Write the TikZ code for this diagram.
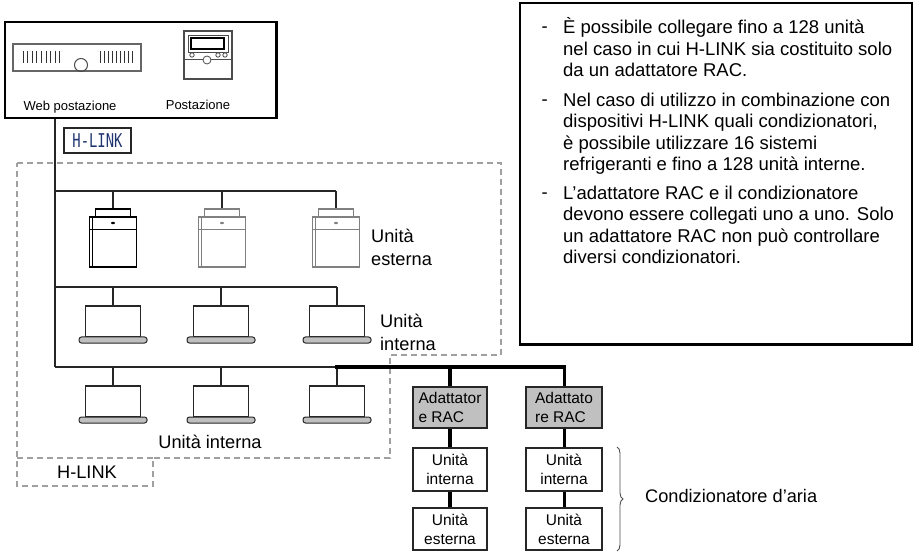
\documentclass[tikz,border=0pt]{standalone}
\usepackage{graphicx}
\usepackage{fontspec}
\setmainfont{Liberation Sans}
\newfontfamily\hlinkmono{DejaVu Sans Mono}
\usetikzlibrary{decorations.pathreplacing}
\definecolor{hlinkblue}{HTML}{1F3570}
\definecolor{adapterfill}{HTML}{C0C0C0}
\definecolor{dashgray}{HTML}{A0A0A0}

\begin{document}
\begin{tikzpicture}[x=1pt,y=-1pt,
  wire/.style={draw=black!85, line width=1.3pt},
  heavywire/.style={draw=black, line width=4.5pt},
  midwire/.style={draw=black, line width=3pt},
  zone/.style={draw=dashgray, line width=1.5pt, dash pattern=on 6pt off 4pt},
  lbl/.style={font=\fontsize{18.2}{23}\selectfont, inner sep=0pt, align=left},
  smalllbl/.style={font=\fontsize{13}{15}\selectfont, inner sep=0pt},
  note/.style={font=\fontsize{18.5}{21.6}\selectfont, inner sep=0pt, align=left, anchor=base west},
  unitbox/.style={draw=black!85, line width=1.2pt, fill=white, align=center,
    font=\fontsize{15.5}{19}\selectfont, inner sep=0pt},
  adapterbox/.style={unitbox, fill=adapterfill, align=left},
]
\useasboundingbox (0,0) rectangle (913,553);

% ---- H-LINK zone (dashed outline with tab) ----
\draw[zone] (17,163) -- (501,163) -- (501,355) -- (390,355) -- (390,458)
  -- (153,458) -- (153,486) -- (17,486) -- cycle;
\draw[zone] (17,458) -- (153,458);
\node[lbl] (hlinkzone) at (87,472) {H-LINK};

% ---- central management devices ----
\node[draw=black, line width=1.2pt, minimum width=271pt, minimum height=96pt, inner sep=0pt] (console) at (140.5,70) {};
\draw[line width=2pt] (console.north east) -- (console.south east);

% web station
\node[draw=black!60, line width=1.2pt, minimum width=128pt, minimum height=27pt, inner sep=0pt] (web) at (77,57.5) {};
\foreach \i in {0,...,8} {
  \draw[black!80, line width=0.9pt] (23+\i*4.6,51) -- ++(0,12.5);
  \draw[black!80, line width=0.9pt] (100+\i*4.1,51) -- ++(0,12.5);
}
\draw[black!70, line width=1pt] (81,65) circle (6.5);
\node[smalllbl] (weblbl) at (70,107) {Web postazione};

% wall controller
\node[draw=black!70, line width=1.2pt, minimum width=48pt, minimum height=48pt, inner sep=0pt] (ctrl) at (208,55) {};
\draw[black!70, line width=0.8pt] (188,35) rectangle (228,52);
\draw[black, line width=1.4pt] (191,38) rectangle (224,49);
\draw[black!70, line width=0.8pt] (184,59) -- (232,59);
\draw[black!70, line width=0.8pt, fill=white] (192,55) circle (2.2) (218,55) circle (2.2) (225,55) circle (2.2);
\draw[black!70, line width=0.8pt, fill=white] (207,60) circle (4);
\node[smalllbl] (ctrllbl) at (198,105) {Postazione};

% H-LINK tag
\node[draw=black!85, line width=1.2pt, minimum width=67pt, minimum height=25pt, inner sep=0pt,
  text=hlinkblue, font=\hlinkmono\fontsize{19}{19}\selectfont] (hlinktag) at (97.5,140.5) {\scalebox{0.73}[1]{H-LINK}};

% ---- bus junctions ----
\coordinate (jo) at (55,191);
\coordinate (ji) at (55,287);
\coordinate (jb) at (55,367);
\draw[wire] (console.south -| jb) -- (jb);

% ---- outdoor units ----
\foreach \x/\c [count=\k] in {113/black, 222/black!50, 336/black!50} {
  \node[draw=\c, line width=1.2pt, minimum width=47pt, minimum height=50pt, inner sep=0pt, fill=white] (odu\k) at (\x,242) {};
  \node[draw=\c, line width=1.2pt, minimum width=35pt, minimum height=8pt, inner sep=0pt] (cap\k) at (\x,213) {};
  \draw[\c, line width=0.8pt] (\x-23.5,229) -- (\x+23.5,229);
  \draw[\c, line width=0.8pt] (\x-20.8,217) -- (\x-20.8,267);
  \fill[\c] (\x,223) ellipse (2pt and 1.2pt);
}
\draw[wire] (jo) -- (jo -| cap3.north);
\foreach \k in {1,2,3} { \draw[wire] (jo -| cap\k.north) -- (cap\k.north); }
\node[lbl, anchor=base west] (odulbl) at (371,266) {Unità\\esterna};

% ---- indoor units (two rows) ----
\foreach \x [count=\k] in {113,221,337} {
  \node[draw=black!85, line width=1.2pt, minimum width=55pt, minimum height=31pt, inner sep=0pt] (idu\k) at (\x,321.5) {};
  \draw[black!85, line width=1pt, fill=black!25, rounded corners=2.5pt] (\x-34,337) rectangle (\x+34,343);
  \node[draw=black!85, line width=1.2pt, minimum width=55pt, minimum height=31pt, inner sep=0pt] (idw\k) at (\x,401.5) {};
  \draw[black!85, line width=1pt, fill=black!25, rounded corners=2.5pt] (\x-34,417) rectangle (\x+34,423);
}
\draw[wire] (ji) -- (ji -| idu3.north);
\draw[wire] (jb) -- (jb -| idw3.north);
\foreach \k in {1,2,3} {
  \draw[wire] (ji -| idu\k.north) -- (idu\k.north);
  \draw[wire] (jb -| idw\k.north) -- (idw\k.north);
}
\node[lbl, anchor=base west] (idulbl) at (380,350) {Unità\\interna};
\node[lbl] (idwlbl) at (210,442) {Unità interna};

% ---- RAC adapters with room air conditioners ----
\node[adapterbox, minimum width=74pt, minimum height=41pt] (ad1) at (450,407.5) {Adattator\\e RAC};
\node[adapterbox, minimum width=76pt, minimum height=41pt] (ad2) at (564,407.5) {Adattato\\re RAC};
\node[unitbox, minimum width=74pt, minimum height=43pt] (ri1) at (450,469.5) {Unità\\interna};
\node[unitbox, minimum width=74pt, minimum height=42pt] (re1) at (450,529) {Unità\\esterna};
\node[unitbox, minimum width=76pt, minimum height=43pt] (ri2) at (564,469.5) {Unità\\interna};
\node[unitbox, minimum width=76pt, minimum height=42pt] (re2) at (564,529) {Unità\\esterna};

\draw[heavywire, line cap=rect] (jb -| idw3.north) -- (jb -| ad2.north);
\draw[heavywire] (jb -| ad1.north) -- (ad1.north);
\draw[heavywire] (ad1.south) -- (ri1.north);
\draw[heavywire] (ri1.south) -- (re1.north);
\draw[midwire] (jb -| ad2.north) -- (ad2.north);
\draw[midwire] (ad2.south) -- (ri2.north);
\draw[midwire] (ri2.south) -- (re2.north);

% brace grouping the air conditioner
\coordinate (brtop) at (617,447);
\coordinate (brbot) at (617,551);
\draw[decorate, decoration={brace, amplitude=6pt}, black!70, line width=0.9pt] (brtop) -- (brbot);
\node[lbl, anchor=west] (cond) at (645,496) {Condizionatore d’aria};

% ---- notes ----
\node[draw=black, line width=1.3pt, minimum width=392pt, minimum height=341pt, inner sep=0pt] (notes) at (716,173.5) {};
\draw[line width=2.5pt] (notes.south west) -- (notes.south east);
\node[note] (d1) at (541.5,33) {-};
\node[note] (p1) at (563,77) {È possibile collegare fino a 128 unità\\nel caso in cui H-LINK sia costituito solo\\da un adattatore RAC.};
\node[note] (d2) at (541.5,106) {-};
\node[note] (p2) at (563,171) {Nel caso di utilizzo in combinazione con\\dispositivi H-LINK quali condizionatori,\\è possibile utilizzare 16 sistemi\\refrigeranti e fino a 128 unità interne.};
\node[note] (d3) at (541.5,199) {-};
\node[note] (p3) at (563,264) {L’adattatore RAC e il condizionatore\\devono essere collegati uno a uno. Solo\\un adattatore RAC non può controllare\\diversi condizionatori.};
\end{tikzpicture}
\end{document}
